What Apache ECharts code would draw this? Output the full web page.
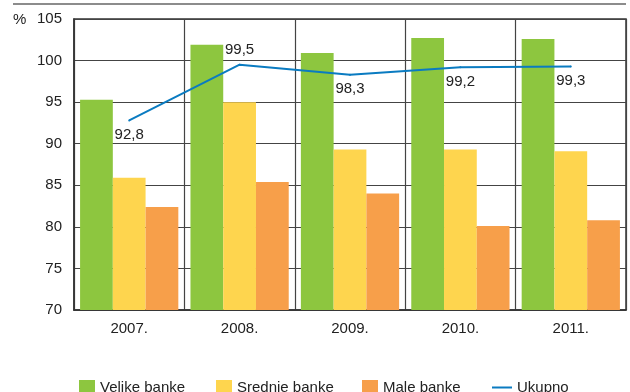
<!DOCTYPE html>
<html><head><meta charset="utf-8">
<script src="https://cdn.jsdelivr.net/npm/echarts@6/dist/echarts.min.js"></script>
<style>html,body{margin:0;padding:0;background:#fff}#c{width:630px;height:392px}</style>
</head><body><div id="c"></div>
<script>
const categories = ['2007.', '2008.', '2009.', '2010.', '2011.'];
const velike = [95.3, 101.9, 100.9, 102.7, 102.6];
const srednje = [85.9, 95.0, 89.3, 89.3, 89.1];
const male = [82.4, 85.4, 84.0, 80.1, 80.8];
const ukupno = [92.8, 99.5, 98.3, 99.2, 99.3];
const ukupnoLabelPos = ['bottom', 'top', 'bottom', 'bottom', 'bottom'];

const FONT = '"Liberation Sans Narrow", "Arial Narrow", "Liberation Sans", sans-serif';
const chart = echarts.init(document.getElementById('c'));
const fmt = v => String(v).replace('.', ',');
chart.setOption({
  animation: false,
  textStyle: { fontFamily: FONT },
  grid: { left: 74, right: 4, top: 19, bottom: 82, show: true, borderColor: '#333', borderWidth: 1.5, backgroundColor: 'transparent' },
  graphic: [
    { type: 'line', shape: { x1: 13, y1: 4, x2: 626, y2: 4 }, style: { stroke: '#666', lineWidth: 1.5 } },
    { type: 'text', left: 13, top: 12, style: { text: '%', font: '15px ' + FONT, fill: '#222' } }
  ],
  legend: [
    { left: 74, top: 375, itemWidth: 16, itemHeight: 16, icon: 'rect', data: ['Velike banke'], textStyle: { fontSize: 15, color: '#222', fontFamily: FONT } },
    { left: 211, top: 375, itemWidth: 16, itemHeight: 16, icon: 'rect', data: ['Srednje banke'], textStyle: { fontSize: 15, color: '#222', fontFamily: FONT } },
    { left: 357, top: 375, itemWidth: 16, itemHeight: 16, icon: 'rect', data: ['Male banke'], textStyle: { fontSize: 15, color: '#222', fontFamily: FONT } },
    { left: 487, top: 375, itemWidth: 20, itemHeight: 16, data: [{ name: 'Ukupno', icon: 'path://M0,7 L20,7 L20,9 L0,9 Z' }], textStyle: { fontSize: 15, color: '#222', fontFamily: FONT } }
  ],
  xAxis: {
    type: 'category', data: categories,
    axisLine: { lineStyle: { color: '#333', width: 1.5 } },
    axisTick: { show: false },
    splitLine: { show: true, interval: 0, lineStyle: { color: '#444', width: 1.2 } },
    axisLabel: { fontSize: 15, color: '#222', margin: 11, fontFamily: FONT }
  },
  yAxis: {
    type: 'value', min: 70, max: 105, interval: 5,
    axisLine: { show: true, lineStyle: { color: '#333', width: 1.5 } },
    axisTick: { show: false },
    splitLine: { lineStyle: { color: '#444', width: 1.2 } },
    axisLabel: { fontSize: 15, color: '#222', margin: 12, fontFamily: FONT }
  },
  series: [
    { name: 'Velike banke', type: 'bar', data: velike, barGap: '0%', barCategoryGap: '11%', itemStyle: { color: '#8DC63F' } },
    { name: 'Srednje banke', type: 'bar', data: srednje, itemStyle: { color: '#FED54E' } },
    { name: 'Male banke', type: 'bar', data: male, itemStyle: { color: '#F79F4A' } },
    { name: 'Ukupno', type: 'line', data: ukupno.map((v, i) => ({ value: v, label: { position: ukupnoLabelPos[i] } })),
      symbol: 'circle', symbolSize: 2, showSymbol: true, lineStyle: { color: '#0A7BC1', width: 2 }, itemStyle: { color: '#0A7BC1' },
      label: { show: true, formatter: p => fmt(p.value), fontSize: 15, color: '#222', distance: 6, fontFamily: FONT } }
  ]
});
</script></body></html>
